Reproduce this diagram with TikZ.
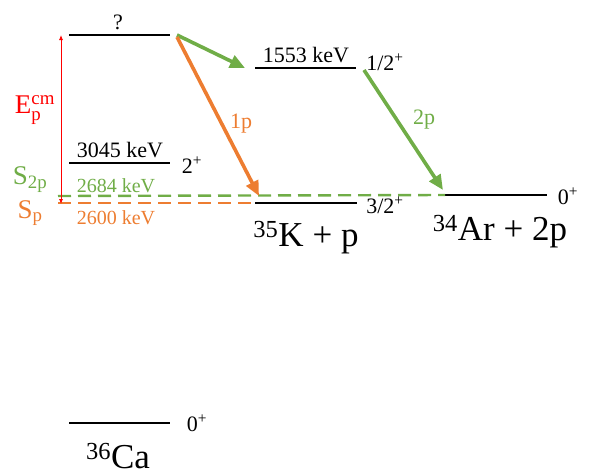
\documentclass[tikz,border=0pt]{standalone}
\usepackage{amsmath}
\usepackage{fontspec}
\setmainfont{Liberation Serif}
\usepackage{tikz}
\usetikzlibrary{arrows.meta,positioning}
\definecolor{orng}{HTML}{ED7D31}
\definecolor{grn}{HTML}{70AD47}
\definecolor{rd}{HTML}{FF0000}

\begin{document}
\begin{tikzpicture}[x=1pt,y=-1pt,
  lvl/.style={line width=2.6pt,black},
  sep/.style={line width=2.4pt,dash pattern=on 13pt off 7pt},
  decay/.style={line width=3.6pt,-{Triangle[length=15pt,width=13pt]}},
  every node/.style={inner sep=0pt,font=\fontsize{22}{24}\selectfont},
  big/.style={font=\fontsize{35}{38}\selectfont}]
\useasboundingbox (0,0) rectangle (592,472);
% level ends
\coordinate (qa) at (69,35);   \coordinate (qb) at (170,35);
\coordinate (ga) at (69,163);  \coordinate (gb) at (170,163);
\coordinate (ca) at (69,423);  \coordinate (cb) at (170,423);
\coordinate (ka) at (255,68);  \coordinate (kb) at (356,68);
\coordinate (pa) at (255,203); \coordinate (pb) at (357,203);
\coordinate (aa) at (445,195); \coordinate (ab) at (547,195);
\coordinate (s2) at (58,196);  \coordinate (s1) at (58,203);
\coordinate (et) at (61,35);   \coordinate (eb) at (61,204);
\foreach \x/\y in {qa/qb,ga/gb,ca/cb,ka/kb,pa/pb,aa/ab}{\draw[lvl] (\x)--(\y);}
\draw[sep,orng] (s1)--(pa);
\draw[sep,grn] (s2)--(aa);
\draw[rd,line width=0.8pt,{Latex[length=5pt,width=4pt]}-{Latex[length=5pt,width=4pt]}] (et)--(eb);
% decays
\coordinate (d1) at (177,35);  \coordinate (d2) at (245,68);
\coordinate (d3) at (177,37);  \coordinate (d4) at (259,196);
\coordinate (d5) at (364,70);  \coordinate (d6) at (443,190);
\draw[decay,grn] (d1)--(d2);
\draw[decay,orng] (d3)--(d4);
\draw[decay,grn] (d5)--(d6);
% labels
\node (q) at (118,22) {?};
\node (g) at (120,150) {3045 keV};
\node (gj) at (192,165) {2\textsuperscript{+}};
\node[grn,font=\fontsize{20}{22}\selectfont] (s2e) at (116,186) {2684 keV};
\node[orng,font=\fontsize{20}{22}\selectfont] (s1e) at (116,218) {2600 keV};
\node[grn,font=\fontsize{27}{29}\selectfont] (s2l) at (30,180) {S\textsubscript{2p}};
\node[orng,font=\fontsize{27}{29}\selectfont] (s1l) at (30,213) {S\textsubscript{p}};
\node[rd,font=\fontsize{27}{29}\selectfont] (el) at (35,110) {E$^{\text{cm}}_{\text{p}}$};
\node (k) at (306,55) {1553 keV};
\node (kj) at (385,62) {1/2\textsuperscript{+}};
\node (pj) at (385,205) {3/2\textsuperscript{+}};
\node (aj) at (568,196) {0\textsuperscript{+}};
\node (cj) at (197,423) {0\textsuperscript{+}};
\node[orng] (l1) at (241,124) {1p};
\node[grn] (l2) at (424,120) {2p};
\node[big] (kp) at (306,238) {\textsuperscript{35}K + p};
\node[big] (ar) at (500,232) {\textsuperscript{34}Ar + 2p};
\node[big] (c) at (118,456) {\textsuperscript{36}Ca};
\end{tikzpicture}
\end{document}
